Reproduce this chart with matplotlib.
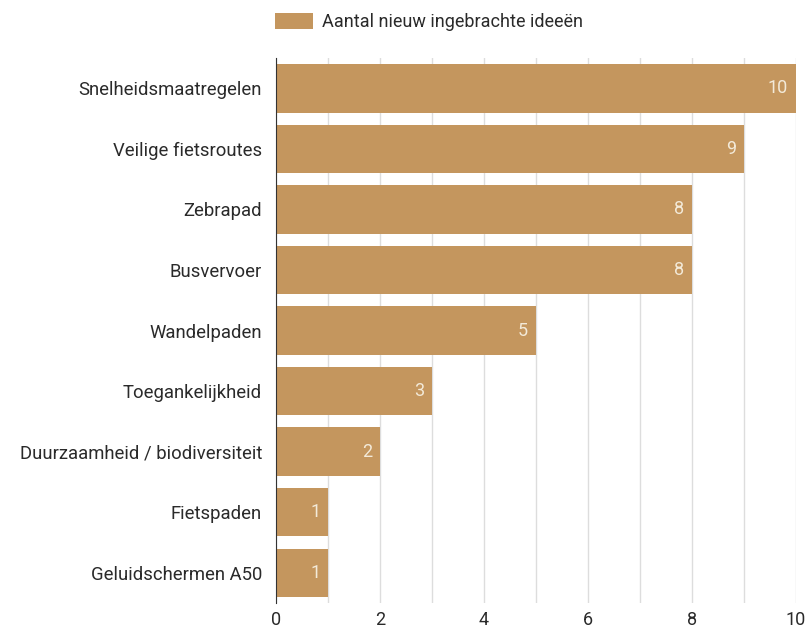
import matplotlib
matplotlib.use("Agg")
import matplotlib.pyplot as plt
from matplotlib.patches import Patch

categories = ["Snelheidsmaatregelen", "Veilige fietsroutes", "Zebrapad", "Busvervoer",
              "Wandelpaden", "Toegankelijkheid", "Duurzaamheid / biodiversiteit",
              "Fietspaden", "Geluidschermen A50"]
values = [10, 9, 8, 8, 5, 3, 2, 1, 1]
series_name = "Aantal nieuw ingebrachte ideeën"
xticks = [0, 2, 4, 6, 8, 10]

plt.rcParams['font.family'] = ['Roboto', 'DejaVu Sans']
color = "#C4965E"
text_color = '#2a2a2a'

fig = plt.figure(figsize=(8.06, 6.3), dpi=100)
ax = fig.add_axes([276/806, 1-603/630, 520/806, 545/630])

y = list(range(len(categories)))
ax.barh(y, values, height=0.8, color=color, zorder=3)
for yi, v in zip(y, values):
    ax.text(v - 0.15, yi, str(v), ha='right', va='center', color='#f3ead9',
            fontsize=13, zorder=4)

ax.set_xlim(0, 10)
ax.set_ylim(len(categories) - 0.5, -0.5)
ax.set_yticks(y)
ax.set_yticklabels(categories, fontsize=13.3, color=text_color)
ax.set_xticks(xticks)
ax.set_xticklabels([str(t) for t in xticks], fontsize=13, color=text_color)
ax.set_xticks(range(0, 11), minor=True)
ax.grid(axis='x', which='both', color='#dddddd', linewidth=1, zorder=0)
ax.tick_params(axis='both', length=0, which='both')
ax.tick_params(axis='y', pad=10)
ax.tick_params(axis='x', pad=6)
for s in ['top', 'right', 'bottom']:
    ax.spines[s].set_visible(False)
ax.spines['left'].set_color('#333333')
ax.spines['left'].set_zorder(5)

leg = fig.legend(handles=[Patch(facecolor=color, label=series_name)],
                 loc='center left', bbox_to_anchor=(259/806, 1-22/630), frameon=False,
                 fontsize=13, handlelength=2.1, handleheight=1.05, handletextpad=0.5)
for t in leg.get_texts():
    t.set_color(text_color)

fig.savefig("out.png", dpi=100, facecolor='white')
